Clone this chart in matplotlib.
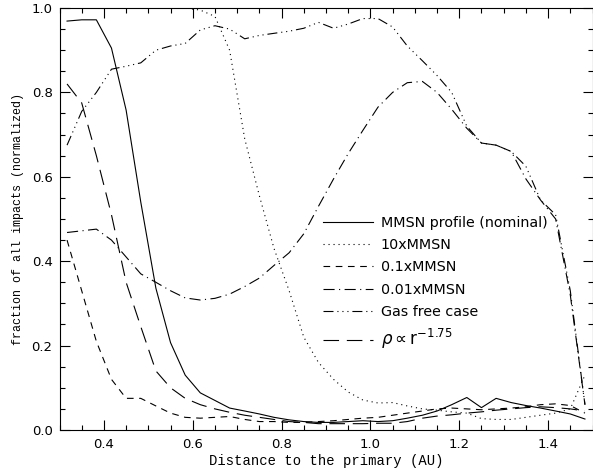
import matplotlib
matplotlib.use("Agg")
import matplotlib.pyplot as plt
from matplotlib.ticker import MultipleLocator

# bin centres (AU)
dist = [0.317, 0.350, 0.383, 0.417, 0.450, 0.483, 0.517, 0.550, 0.583, 0.617,
        0.650, 0.683, 0.717, 0.750, 0.783, 0.817, 0.850, 0.883, 0.917, 0.950,
        0.983, 1.017, 1.050, 1.083, 1.117, 1.150, 1.183, 1.217, 1.250, 1.283,
        1.317, 1.350, 1.383, 1.417, 1.450, 1.483]

mmsn = [0.969, 0.972, 0.972, 0.905, 0.758, 0.540, 0.336, 0.207, 0.130, 0.088,
        0.070, 0.052, 0.045, 0.038, 0.030, 0.024, 0.020, 0.018, 0.018, 0.020,
        0.022, 0.020, 0.022, 0.028, 0.035, 0.045, 0.060, 0.077, 0.053, 0.075,
        0.065, 0.058, 0.052, 0.045, 0.038, 0.026]

mmsn_x10 = [1.0, 1.0, 1.0, 1.0, 1.0, 1.0, 1.0, 1.0, 1.0, 0.995,
            0.980, 0.900, 0.690, 0.555, 0.430, 0.330, 0.220, 0.160, 0.120, 0.090,
            0.071, 0.064, 0.065, 0.057, 0.050, 0.047, 0.043, 0.040, 0.027, 0.025,
            0.025, 0.030, 0.035, 0.040, 0.050, 0.130]

mmsn_x01 = [0.450, 0.330, 0.210, 0.120, 0.075, 0.075, 0.057, 0.040, 0.030, 0.028,
            0.030, 0.032, 0.025, 0.020, 0.020, 0.018, 0.018, 0.020, 0.022, 0.025,
            0.028, 0.030, 0.035, 0.040, 0.045, 0.050, 0.052, 0.050, 0.048, 0.050,
            0.052, 0.055, 0.060, 0.062, 0.058, 0.040]

mmsn_x001 = [0.468, 0.472, 0.476, 0.450, 0.410, 0.370, 0.350, 0.330, 0.313, 0.308,
             0.312, 0.322, 0.340, 0.360, 0.390, 0.420, 0.465, 0.530, 0.595, 0.655,
             0.710, 0.765, 0.800, 0.823, 0.826, 0.800, 0.760, 0.715, 0.680, 0.675,
             0.660, 0.595, 0.545, 0.500, 0.320, 0.060]

gas_free = [0.675, 0.755, 0.800, 0.855, 0.862, 0.870, 0.900, 0.910, 0.916, 0.948,
            0.958, 0.950, 0.927, 0.935, 0.940, 0.945, 0.952, 0.966, 0.952, 0.962,
            0.975, 0.975, 0.955, 0.910, 0.875, 0.840, 0.800, 0.720, 0.680, 0.675,
            0.660, 0.625, 0.545, 0.510, 0.330, 0.060]

rho_175 = [0.820, 0.775, 0.650, 0.510, 0.350, 0.245, 0.140, 0.100, 0.075, 0.060,
           0.050, 0.042, 0.035, 0.030, 0.025, 0.020, 0.018, 0.015, 0.015, 0.015,
           0.015, 0.016, 0.016, 0.020, 0.028, 0.033, 0.036, 0.040, 0.043, 0.047,
           0.050, 0.053, 0.055, 0.053, 0.050, 0.045]

labels = ['MMSN profile (nominal)', '10xMMSN', '0.1xMMSN', '0.01xMMSN',
          'Gas free case', r'$\rho \propto$r$^{-1.75}$']

styles = ['-', (0, (1, 3.5)), (0, (6, 5)), (0, (10, 4, 1, 4)),
          (0, (9, 3.5, 1, 3.5, 1, 3.5, 1, 3.5)), (0, (14, 7))]

fig = plt.figure(figsize=(5.93, 4.69), dpi=100)
ax = fig.add_axes([59.5 / 593, 39 / 469, 533 / 593, 422 / 469])

series = [mmsn, mmsn_x10, mmsn_x01, mmsn_x001, gas_free, rho_175]
for vals, ls, lab in zip(series, styles, labels):
    ax.plot(dist, vals, color='black', lw=0.8, linestyle=ls, label=lab)

ax.set_xlim(0.3, 1.5)
ax.set_ylim(0.0, 1.0)
ax.xaxis.set_major_locator(MultipleLocator(0.2))
ax.xaxis.set_minor_locator(MultipleLocator(0.05))
ax.yaxis.set_major_locator(MultipleLocator(0.2))
ax.yaxis.set_minor_locator(MultipleLocator(0.05))
ax.xaxis.set_major_formatter(matplotlib.ticker.FormatStrFormatter('%.1f'))
ax.yaxis.set_major_formatter(matplotlib.ticker.FormatStrFormatter('%.1f'))

ax.tick_params(which='both', direction='in', top=True, right=True, width=0.8,
               labelsize=9.5)
ax.tick_params(which='major', length=7)
ax.tick_params(which='minor', length=3.5)
ax.tick_params(axis='x', pad=6)
ax.tick_params(axis='y', pad=5)
for sp in ax.spines.values():
    sp.set_linewidth(0.8)

ax.set_xlabel('Distance to the primary (AU)', family='Liberation Mono', fontsize=10)
ax.set_ylabel('fraction of all impacts (normalized)', family='Liberation Mono',
              fontsize=8.4)
ax.xaxis.set_label_coords(0.5, -0.073)
ax.xaxis.label.set_va('center')
ax.yaxis.set_label_coords(-0.078, 0.5)
ax.yaxis.label.set_va('center')

leg = ax.legend(loc='upper left', bbox_to_anchor=(0.494, 0.508), frameon=False,
                fontsize=10.3, handlelength=3.5, handletextpad=0.55,
                labelspacing=0.58, borderpad=0, borderaxespad=0)
leg.get_texts()[-1].set_fontsize(12)

fig.savefig('out.png', dpi=100)
